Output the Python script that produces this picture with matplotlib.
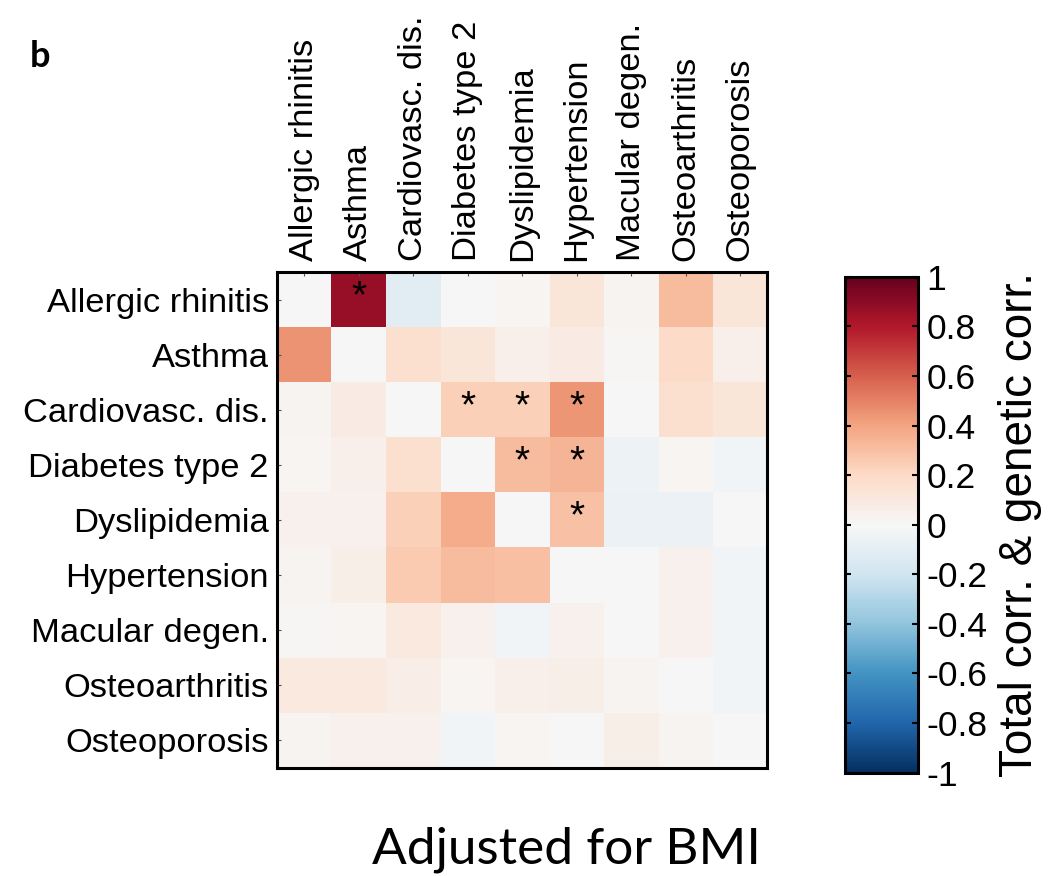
import matplotlib

matplotlib.use("Agg")
import matplotlib.pyplot as plt
import numpy as np

diseases = [
    "Allergic rhinitis",
    "Asthma",
    "Cardiovasc. dis.",
    "Diabetes type 2",
    "Dyslipidemia",
    "Hypertension",
    "Macular degen.",
    "Osteoarthritis",
    "Osteoporosis",
]

# correlation matrix, rows top to bottom, columns left to right
corr = [
    [0.00, 0.87, -0.11, 0.00, 0.02, 0.12, 0.03, 0.32, 0.12],
    [0.45, 0.00, 0.16, 0.12, 0.05, 0.08, 0.01, 0.19, 0.05],
    [0.03, 0.08, 0.00, 0.24, 0.24, 0.44, 0.00, 0.16, 0.12],
    [0.02, 0.05, 0.16, 0.00, 0.32, 0.34, -0.05, 0.02, -0.03],
    [0.04, 0.04, 0.24, 0.37, 0.00, 0.29, -0.06, -0.06, 0.00],
    [0.03, 0.06, 0.26, 0.32, 0.30, 0.00, 0.00, 0.04, -0.03],
    [0.01, 0.02, 0.10, 0.04, -0.03, 0.04, 0.00, 0.04, -0.03],
    [0.10, 0.10, 0.07, 0.02, 0.05, 0.06, 0.03, 0.00, -0.03],
    [0.03, 0.04, 0.04, -0.03, 0.02, 0.00, 0.06, 0.03, 0.00],
]

# (row, col) cells marked significant
signif = [(0, 1), (2, 3), (2, 4), (2, 5), (3, 4), (3, 5), (4, 5)]

cbar_ticks = [-1, -0.8, -0.6, -0.4, -0.2, 0, 0.2, 0.4, 0.6, 0.8, 1]
cbar_labels = ["-1", "-0.8", "-0.6", "-0.4", "-0.2", "0", "0.2", "0.4", "0.6", "0.8", "1"]

plt.rcParams["font.family"] = ["Liberation Sans", "DejaVu Sans"]

fig = plt.figure(figsize=(10.54, 8.76), dpi=100)
ax = fig.add_axes([0.263, 0.1233, 0.465, 0.566])
im = ax.imshow(np.array(corr), cmap="RdBu_r", vmin=-1, vmax=1, aspect="auto")

for r, c in signif:
    ax.text(c, r - 0.05, "*", ha="center", va="center", fontsize=28, color="black")

ax.xaxis.tick_top()
ax.set_xticks(range(len(diseases)))
ax.set_xticklabels(diseases, rotation=90, fontsize=24.8)
ax.set_yticks(range(len(diseases)))
ax.set_yticklabels(diseases, fontsize=24.8)
ax.tick_params(axis="both", direction="in", length=3, width=0.8, color="#555555")
ax.tick_params(axis="x", pad=8)
ax.tick_params(axis="y", pad=6)
for side in ax.spines.values():
    side.set_linewidth(2.2)

cax = fig.add_axes([0.802, 0.118, 0.069, 0.566])
cb = fig.colorbar(im, cax=cax, ticks=cbar_ticks)
cb.ax.set_yticklabels(cbar_labels, fontsize=25.5)
cb.ax.tick_params(direction="in", length=4, width=1.5, left=True, right=True, pad=6)
cb.outline.set_linewidth(2.2)
cb.set_label("Total corr. & genetic corr.", fontsize=33, labelpad=8)

fig.text(0.537, 0.003, "Adjusted for BMI", fontsize=37, family=["Lato", "DejaVu Sans"],
         ha="center", va="bottom")
fig.text(0.028, 0.923, "b", fontsize=26, fontweight="bold", family=["Lato", "DejaVu Sans"])

fig.savefig("out.png", dpi=100)
